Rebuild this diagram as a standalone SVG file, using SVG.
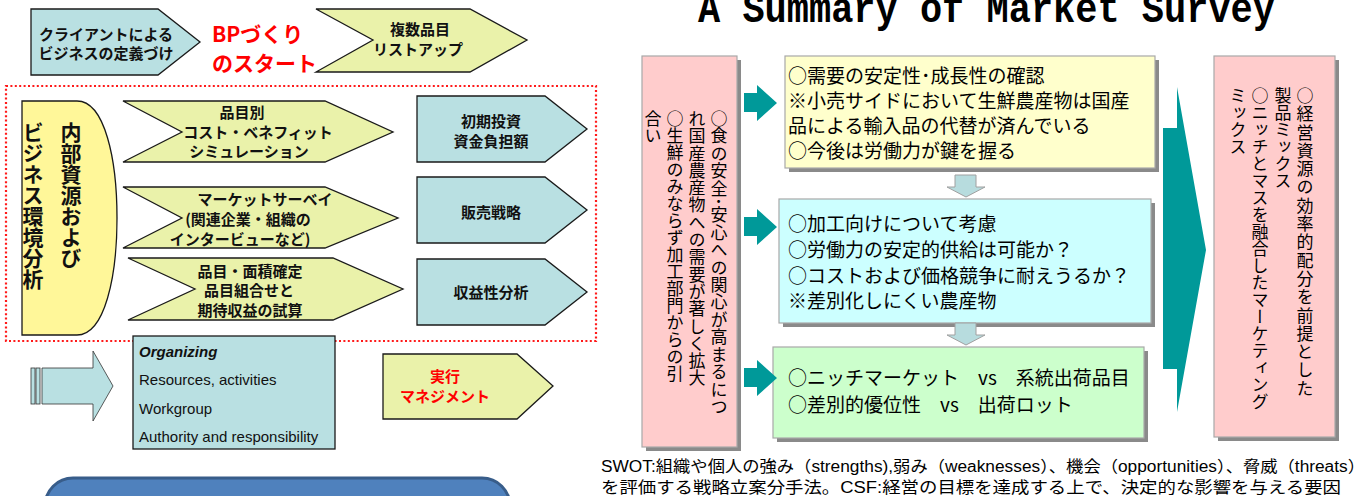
<svg xmlns="http://www.w3.org/2000/svg" width="1370" height="496" viewBox="0 0 1370 496">
<style>
.lb{fill:#b9e0e2;stroke:#1a1a1a;stroke-width:1.3}
.yg{fill:#eaf2aa;stroke:#1a1a1a;stroke-width:1.3}
.jb{font-family:"Noto Sans CJK JP",sans-serif;font-weight:700;font-size:15px;fill:#111;text-anchor:middle}
.red{fill:#ff0000}
.jp{font-family:"Noto Sans CJK JP",sans-serif;font-size:19px;fill:#000}
.vt{font-family:"Noto Sans CJK JP",sans-serif;font-size:17px;fill:#000;writing-mode:vertical-rl}
.vb{font-family:"Noto Sans CJK JP",sans-serif;font-size:21px;font-weight:700;fill:#111;writing-mode:vertical-rl}
.teal{fill:#009999}
.sh{fill:#8a8a8a}
.sb{stroke:#a8a8a8;stroke-width:1.2}
.en{font-family:"Liberation Sans",Arial,sans-serif;font-size:15px;fill:#111}
.dn{fill:#b7dcde;stroke:#a0a0a0;stroke-width:1}
</style>

<text x="698" y="22" font-family="Liberation Mono,monospace" font-weight="700" font-size="42" textLength="577" lengthAdjust="spacingAndGlyphs">A Summary of Market Survey</text>

<g id="client-def">
<polygon class="lb" points="31,9 158,9 200,42 158,75 31,75"/>
<text class="jb" x="106" y="40">クライアントによる</text>
<text class="jb" x="106" y="59">ビジネスの定義づけ</text>
</g>
<g id="bp-start">
<text x="212" y="42" font-family="Noto Sans CJK JP,sans-serif" font-weight="700" font-size="21" class="red">BPづくり</text>
<text x="212" y="71" font-family="Noto Sans CJK JP,sans-serif" font-weight="700" font-size="21" class="red">のスタート</text>
</g>
<g id="multi-items">
<polygon class="yg" points="316,9 470,9 527,40 470,72 316,72 373,40"/>
<text class="jb" x="420" y="35">複数品目</text>
<text class="jb" x="418" y="55">リストアップ</text>
</g>

<rect x="6" y="86" width="590" height="255" fill="none" stroke="#ff1a1a" stroke-width="2.2" stroke-dasharray="2 2.4"/>

<g id="internal">
<path d="M22,101 H77 C105,101 117,160 117,218 C117,276 105,335 77,335 H22 Z" fill="#fff799" stroke="#1a1a1a" stroke-width="1.3"/>
<text class="vb" x="71" y="122">内部資源および</text>
<text class="vb" x="33" y="122">ビジネス環境分析</text>
</g>

<g id="cost-benefit">
<polygon class="yg" points="123,101 325,101 393,132 325,162 123,162 182,132"/>
<text class="jb" x="242" y="118">品目別</text>
<text class="jb" x="258" y="138">コスト・ベネフィット</text>
<text class="jb" x="249" y="157">シミュレーション</text>
</g>
<g id="market-survey">
<polygon class="yg" points="123,187 325,187 398,218 325,248 123,248 182,218"/>
<text class="jb" x="265" y="205">マーケットサーベイ</text>
<text class="jb" x="248" y="225">(関連企業・組織の</text>
<text class="jb" x="240" y="245">インタービューなど)</text>
</g>
<g id="area">
<polygon class="yg" points="128,258 333,258 403,289 333,320 128,320 195,289"/>
<text class="jb" x="250" y="277">品目・面積確定</text>
<text class="jb" x="249" y="296">品目組合せと</text>
<text class="jb" x="250" y="316">期待収益の試算</text>
</g>

<g id="invest">
<polygon class="lb" points="417,96 545,96 587,129 545,162 417,162"/>
<text class="jb" x="491" y="127">初期投資</text>
<text class="jb" x="491" y="147">資金負担額</text>
</g>
<g id="sales">
<polygon class="lb" points="417,177 545,177 587,210 545,243 417,243"/>
<text class="jb" x="491" y="218">販売戦略</text>
</g>
<g id="profit">
<polygon class="lb" points="417,259 545,259 587,292 545,325 417,325"/>
<text class="jb" x="491" y="298">収益性分析</text>
</g>

<g id="block-arrow">
<rect x="31" y="368" width="4" height="36" fill="#b9e0e2" stroke="#333" stroke-width="0.8"/>
<rect x="36" y="368" width="4" height="36" fill="#b9e0e2" stroke="#333" stroke-width="0.8"/>
<path d="M42,368 H93 V351 L113,386 L93,421 V404 H42 Z" fill="#b9e0e2" stroke="#333" stroke-width="0.8"/>
</g>

<g id="organizing">
<rect x="133" y="336" width="202" height="113" fill="#b9e0e2" stroke="#1a1a1a" stroke-width="1.3"/>
<text class="en" x="139" y="357" font-weight="700" font-style="italic">Organizing</text>
<text class="en" x="139" y="385">Resources, activities</text>
<text class="en" x="139" y="414">Workgroup</text>
<text class="en" x="139" y="442">Authority and responsibility</text>
</g>

<g id="execute">
<polygon class="yg" points="383,354 517,354 553,386 517,419 383,419"/>
<text class="jb red" x="445" y="382">実行</text>
<text class="jb red" x="445" y="402">マネジメント</text>
</g>

<g id="blue-panel">
<rect x="45" y="478" width="465" height="70" rx="28" fill="#4f81bd" stroke="#385d8a" stroke-width="3"/>
</g>

<g id="background-box">
<rect class="sh" x="646" y="60" width="95" height="391"/>
<rect class="sb" x="642" y="56" width="95" height="391" fill="#ffcccc"/>
<text class="vt" x="719" y="110" letter-spacing="0.45">○食の安全･安心への関心が高まるにつ</text>
<text class="vt" x="697" y="110" letter-spacing="0.3">れ国産農産物への需要が著しく拡大</text>
<text class="vt" x="675" y="110">○生鮮のみならず加工部門からの引</text>
<text class="vt" x="653" y="110">合い</text>
</g>

<g id="demand-box">
<rect class="sh" x="789" y="60" width="370" height="112"/>
<rect class="sb" x="785" y="56" width="370" height="112" fill="#ffffcc"/>
<text class="jp" x="788" y="83">○需要の安定性･成長性の確認</text>
<text class="jp" x="788" y="108">※小売サイドにおいて生鮮農産物は国産</text>
<text class="jp" x="788" y="133">品による輸入品の代替が済んでいる</text>
<text class="jp" x="788" y="158">○今後は労働力が鍵を握る</text>
</g>

<g id="processing-box">
<rect class="sh" x="783" y="203" width="372" height="124"/>
<rect class="sb" x="779" y="199" width="372" height="124" fill="#ccffff"/>
<text class="jp" x="788" y="231">○加工向けについて考慮</text>
<text class="jp" x="788" y="257">○労働力の安定的供給は可能か？</text>
<text class="jp" x="788" y="283">○コストおよび価格競争に耐えうるか？</text>
<text class="jp" x="788" y="308">※差別化しにくい農産物</text>
</g>

<g id="niche-box">
<rect class="sh" x="777" y="351" width="371" height="91"/>
<rect class="sb" x="773" y="347" width="371" height="91" fill="#ccffcc"/>
<text class="jp" x="788" y="385">○ニッチマーケット　vs　系統出荷品目</text>
<text class="jp" x="788" y="412">○差別的優位性　vs　出荷ロット</text>
</g>

<g id="conclusion-box">
<rect class="sh" x="1218" y="60" width="121" height="381"/>
<rect class="sb" x="1214" y="56" width="121" height="381" fill="#ffcccc"/>
<text class="vt" x="1305" y="87" font-size="18" letter-spacing="1.3">○経営資源の効率的配分を前提とした</text>
<text class="vt" x="1283" y="87" font-size="18">製品ミックス</text>
<text class="vt" x="1260" y="87" font-size="18">○ニッチとマスを融合したマーケティング</text>
<text class="vt" x="1238" y="87" font-size="18">ミックス</text>
</g>

<g id="connectors">
<path class="teal" d="M744,93 H757 V85 L777,103 L757,121 V112 H744 Z"/>
<path class="teal" d="M744,217 H757 V209 L777,227 L757,245 V236 H744 Z"/>
<path class="teal" d="M744,368 H757 V360 L777,378 L757,396 V387 H744 Z"/>
<path class="dn" d="M955,175 H976 V187 H985 L966,197 L947,187 H955 Z"/>
<path class="dn" d="M955,323 H976 V335 H985 L966,345 L947,335 H955 Z"/>
<path class="teal" d="M1163,128 H1177 V87 L1206,250 L1177,412 V369 H1163 Z"/>
</g>

<g id="note">
<text x="601" y="472" font-family="Liberation Sans,Noto Sans CJK JP,sans-serif" font-size="16" textLength="764" lengthAdjust="spacingAndGlyphs">SWOT:組織や個人の強み（strengths),弱み（weaknesses）、機会（opportunities）、脅威（threats）</text>
<text x="601" y="493" font-family="Liberation Sans,Noto Sans CJK JP,sans-serif" font-size="16" textLength="740" lengthAdjust="spacingAndGlyphs">を評価する戦略立案分手法。CSF:経営の目標を達成する上で、決定的な影響を与える要因</text>
</g>
</svg>
